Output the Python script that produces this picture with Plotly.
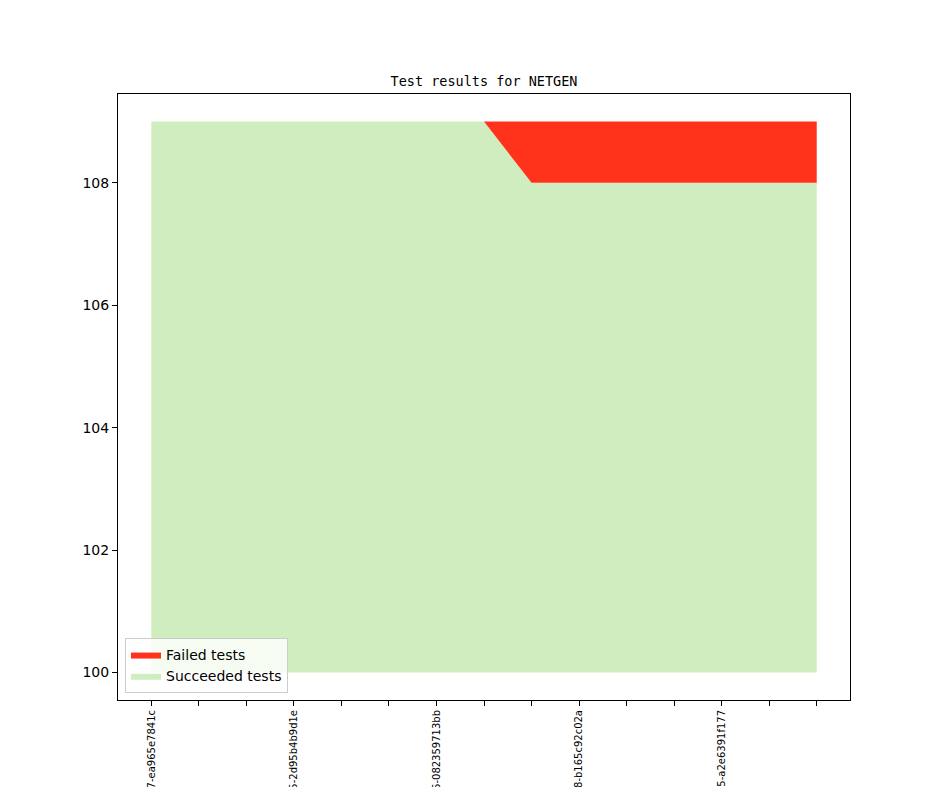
import plotly.graph_objects as go

# commits on the x axis (only every third one is labelled)
commits = [
    "v6.2.2301-27-ea965e7841c", "v6.2.2301-31-0b1f5c3e9aa", "v6.2.2301-40-c44e21d7b90",
    "v6.2.2302-15-2d95b4b9d1e", "v6.2.2302-22-91ab0e6c3f4", "v6.2.2302-30-7fd2a8b10ce",
    "v6.2.2303-06-082359713bb", "v6.2.2303-11-e5c0d9f2a71", "v6.2.2303-19-4a8b6e13d2f",
    "v6.2.2304-08-b165c92c02a", "v6.2.2304-14-3c9e7f0a5b8", "v6.2.2304-21-d0f4b2c6e19",
    "v6.2.2305-05-a2e6391f177", "v6.2.2305-12-6e1a9c4d3b0", "v6.2.2305-20-f82d5b7a1c6",
]
succeeded = [109, 109, 109, 109, 109, 109, 109, 109, 108, 108, 108, 108, 108, 108, 108]
failed = [0, 0, 0, 0, 0, 0, 0, 0, 1, 1, 1, 1, 1, 1, 1]
baseline = 100

x = list(range(len(commits)))
total = [s + f for s, f in zip(succeeded, failed)]
ticktext = [c if i % 3 == 0 else "" for i, c in enumerate(commits)]

fig = go.Figure()
fig.add_trace(go.Scatter(x=x, y=[baseline] * len(x), mode="lines",
                         line=dict(width=0), showlegend=False, hoverinfo="skip"))
fig.add_trace(go.Scatter(x=x, y=succeeded, mode="lines", fill="tonexty",
                         fillcolor="#cfedbf", line=dict(width=0, color="#cfedbf"),
                         name="Succeeded tests", legendrank=2))
fig.add_trace(go.Scatter(x=x, y=total, mode="lines", fill="tonexty",
                         fillcolor="#ff321c", line=dict(width=0, color="#ff321c"),
                         name="Failed tests", legendrank=1))

fig.update_layout(
    width=944, height=787,
    margin=dict(l=118, r=94, t=94, b=87),
    paper_bgcolor="white", plot_bgcolor="white",
    font=dict(family="DejaVu Sans", size=13, color="black"),
    title=dict(text="Test results for NETGEN", xref="paper", x=0.5, xanchor="center",
               y=1 - 81 / 787, yanchor="middle",
               font=dict(family="DejaVu Sans Mono", size=13.5, color="black")),
    legend=dict(x=0.0096, y=0.0116, xanchor="left", yanchor="bottom",
                traceorder="normal",
                bgcolor="rgba(255,255,255,0.8)", bordercolor="#cccccc", borderwidth=1,
                font=dict(size=14), tracegroupgap=0),
    showlegend=True,
)
fig.update_xaxes(range=[-0.7, 14.7], tickvals=x, ticktext=ticktext, tickangle=-90,
                 tickfont=dict(size=10), ticks="outside", ticklen=5, tickcolor="black",
                 showline=True, linecolor="black", mirror=True, showgrid=False,
                 zeroline=False, automargin=False)
fig.update_yaxes(range=[99.55, 109.45], tickvals=[100, 102, 104, 106, 108],
                 tickfont=dict(size=14), ticks="outside", ticklen=5, tickcolor="black",
                 showline=True, linecolor="black", mirror=True, showgrid=False,
                 zeroline=False, automargin=False)

fig.write_html("out.html", config={"displayModeBar": False},
               post_script="document.body.style.margin='0';")
